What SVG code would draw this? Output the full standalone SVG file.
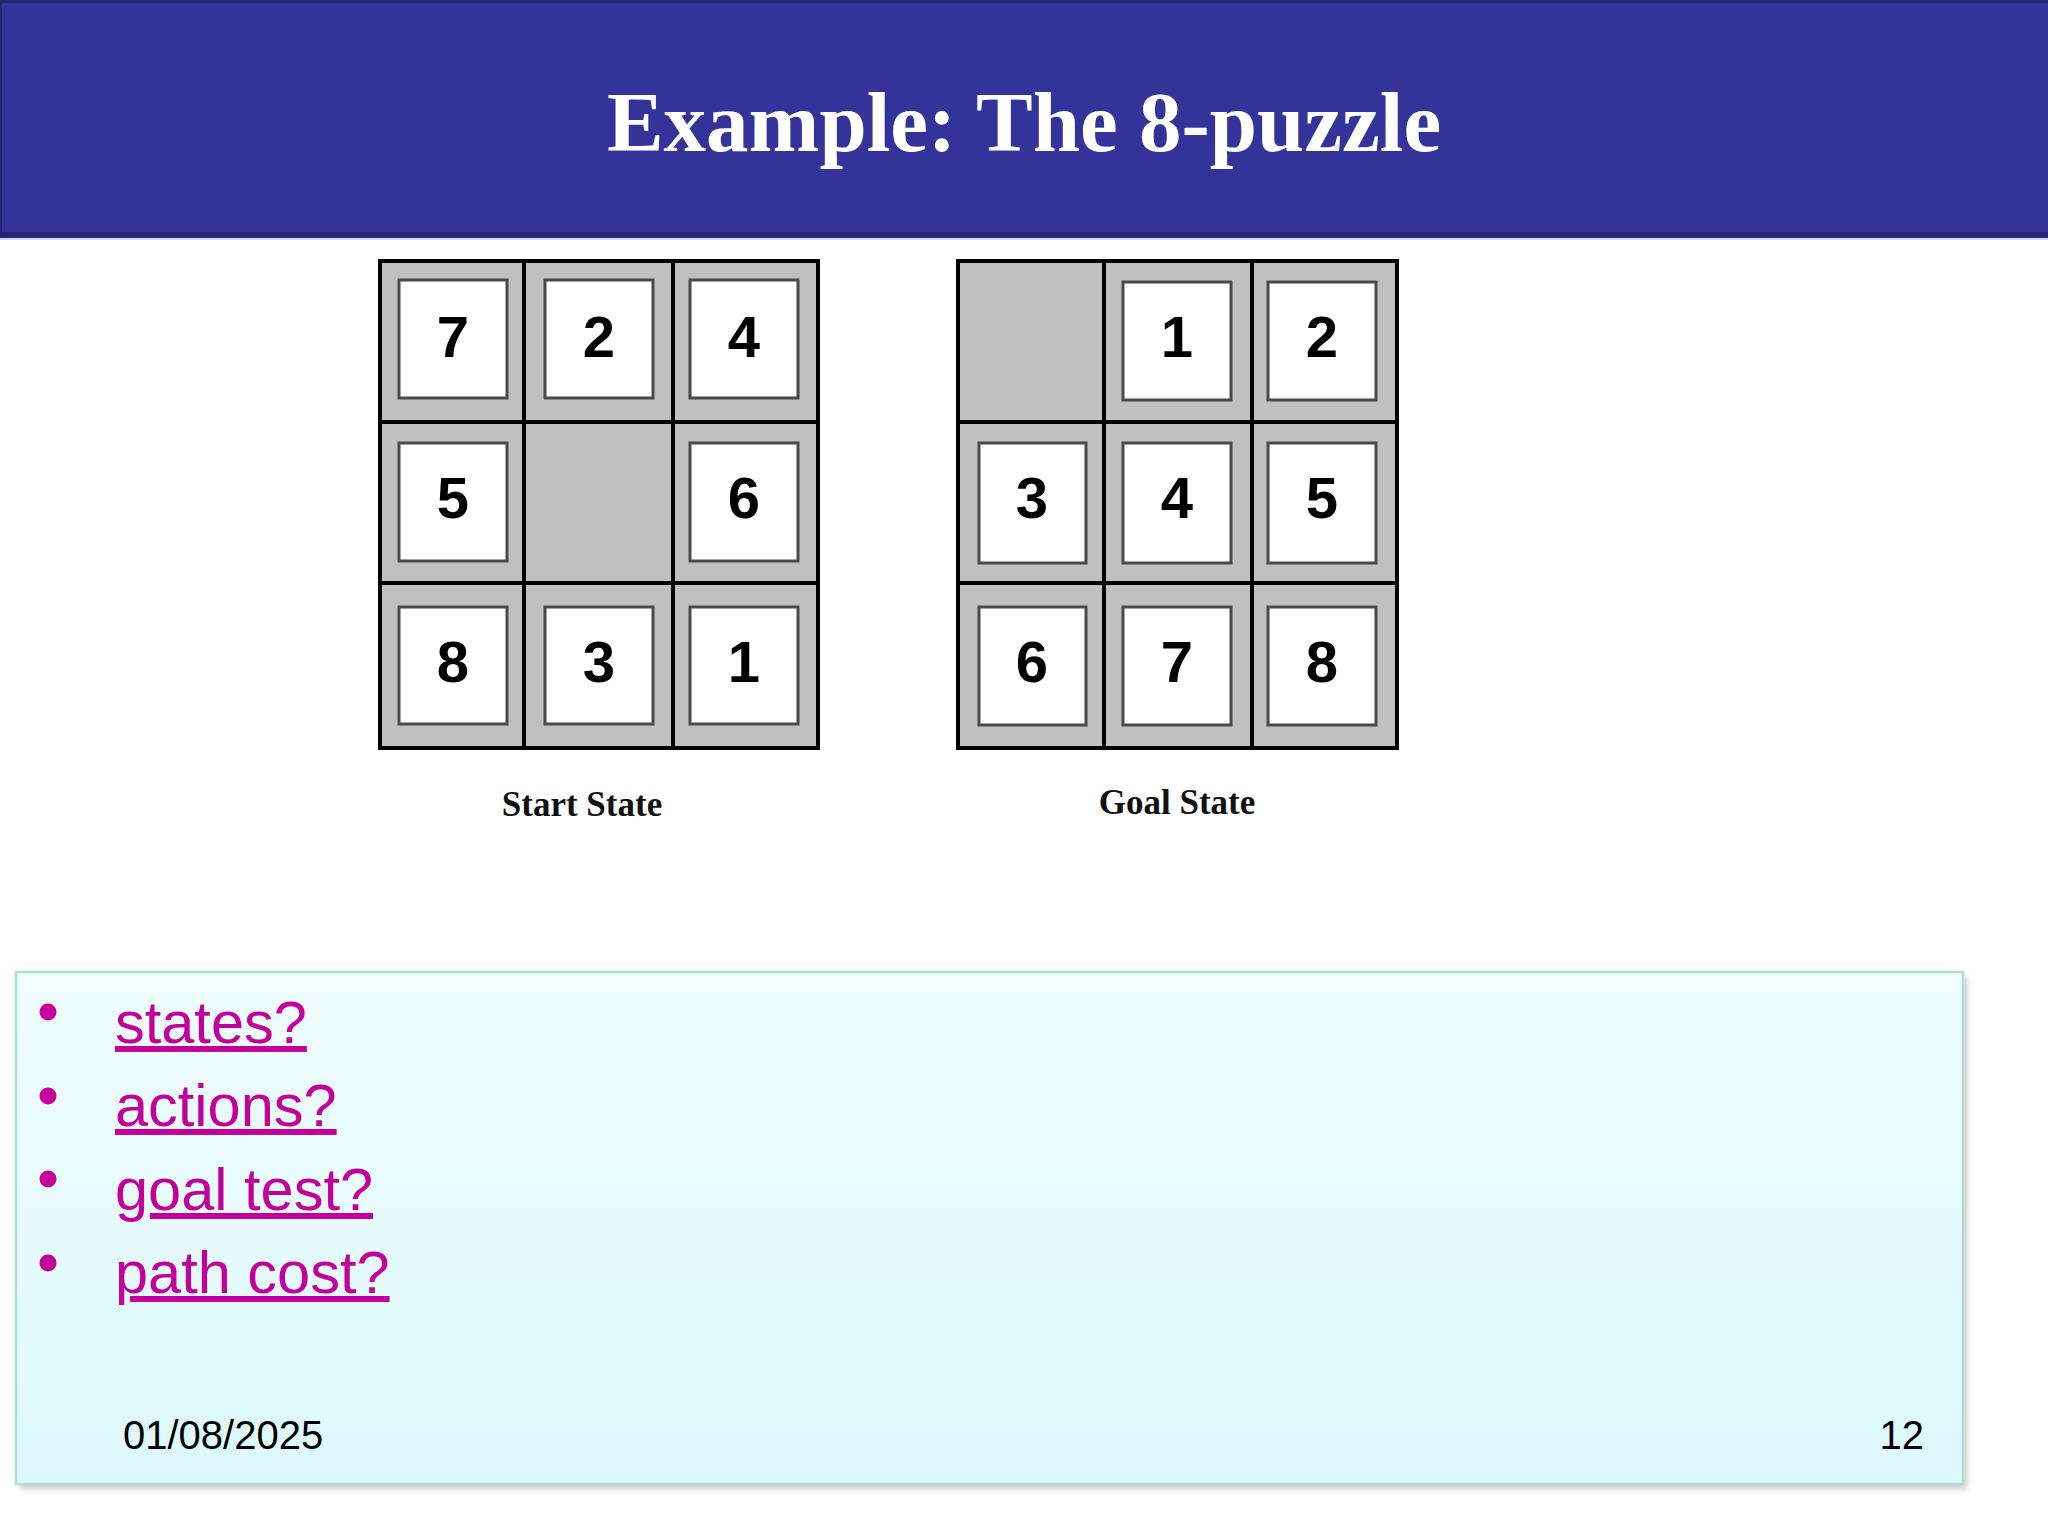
<svg xmlns="http://www.w3.org/2000/svg" width="2048" height="1536" viewBox="0 0 2048 1536">
<defs>
<linearGradient id="boxg" x1="0" y1="0" x2="0" y2="1">
<stop offset="0" stop-color="#f0fcfd"/>
<stop offset="1" stop-color="#dcf9fd"/>
</linearGradient>
<filter id="sh" x="-5%" y="-5%" width="110%" height="110%">
<feGaussianBlur stdDeviation="3"/>
</filter>
</defs>
<style>
.cell{fill:#c0c0c0;stroke:#000;stroke-width:4}
.tile{fill:#fff;stroke:#4a4a4a;stroke-width:3}
.num{font-family:"Liberation Sans",Arial,sans-serif;font-weight:bold;font-size:58px;fill:#000;text-anchor:middle}
.lbl{font-family:"Liberation Serif","Times New Roman",serif;font-weight:bold;font-size:35px;fill:#111;text-anchor:middle}
.bul{font-family:"Liberation Sans",Arial,sans-serif;font-size:59.5px;fill:#c4009c;text-decoration:underline}
.dot{fill:#c4009c}
.foot{font-family:"Liberation Sans",Arial,sans-serif;font-size:40px;fill:#000}
</style>
<rect width="2048" height="1536" fill="#fff"/>
<g id="header">
<rect x="0" y="0" width="2048" height="238" fill="#333399"/>
<rect x="0" y="0" width="2048" height="3" fill="#262675"/>
<rect x="0" y="232" width="2048" height="6" fill="#272778"/>
<rect x="0" y="0" width="2" height="238" fill="#262675"/>
<rect x="0" y="238" width="2048" height="2" fill="#cfd8f0"/>
<text x="1024" y="151" text-anchor="middle" font-family="'Liberation Serif','Times New Roman',serif" font-weight="bold" font-size="85" fill="#fff">Example: The 8-puzzle</text>
</g>
<g id="start-state">
<rect class="cell" x="380" y="261" width="144" height="161"/>
<rect class="cell" x="524" y="261" width="149" height="161"/>
<rect class="cell" x="673" y="261" width="145" height="161"/>
<rect class="cell" x="380" y="422" width="144" height="161"/>
<rect class="cell" x="524" y="422" width="149" height="161"/>
<rect class="cell" x="673" y="422" width="145" height="161"/>
<rect class="cell" x="380" y="583" width="144" height="165"/>
<rect class="cell" x="524" y="583" width="149" height="165"/>
<rect class="cell" x="673" y="583" width="145" height="165"/>
<rect class="tile" x="399" y="280" width="108" height="118"/><text class="num" x="453" y="357">7</text>
<rect class="tile" x="545" y="280" width="108" height="118"/><text class="num" x="599" y="357">2</text>
<rect class="tile" x="690" y="280" width="108" height="118"/><text class="num" x="744" y="357">4</text>
<rect class="tile" x="399" y="443" width="108" height="118"/><text class="num" x="453" y="518">5</text>
<rect class="tile" x="690" y="443" width="108" height="118"/><text class="num" x="744" y="518">6</text>
<rect class="tile" x="399" y="607" width="108" height="117"/><text class="num" x="453" y="682">8</text>
<rect class="tile" x="545" y="607" width="108" height="117"/><text class="num" x="599" y="682">3</text>
<rect class="tile" x="690" y="607" width="108" height="117"/><text class="num" x="744" y="682">1</text>
<text class="lbl" x="582" y="816">Start State</text>
</g>
<g id="goal-state">
<rect class="cell" x="958" y="261" width="146" height="161"/>
<rect class="cell" x="1104" y="261" width="148" height="161"/>
<rect class="cell" x="1252" y="261" width="145" height="161"/>
<rect class="cell" x="958" y="422" width="146" height="161"/>
<rect class="cell" x="1104" y="422" width="148" height="161"/>
<rect class="cell" x="1252" y="422" width="145" height="161"/>
<rect class="cell" x="958" y="583" width="146" height="165"/>
<rect class="cell" x="1104" y="583" width="148" height="165"/>
<rect class="cell" x="1252" y="583" width="145" height="165"/>
<rect class="tile" x="1123" y="282" width="108" height="118"/><text class="num" x="1177" y="357">1</text>
<rect class="tile" x="1268" y="282" width="108" height="118"/><text class="num" x="1322" y="357">2</text>
<rect class="tile" x="979" y="443" width="107" height="120"/><text class="num" x="1032" y="518">3</text>
<rect class="tile" x="1123" y="443" width="108" height="120"/><text class="num" x="1177" y="518">4</text>
<rect class="tile" x="1268" y="443" width="108" height="120"/><text class="num" x="1322" y="518">5</text>
<rect class="tile" x="979" y="607" width="107" height="118"/><text class="num" x="1032" y="682">6</text>
<rect class="tile" x="1123" y="607" width="108" height="118"/><text class="num" x="1177" y="682">7</text>
<rect class="tile" x="1268" y="607" width="108" height="118"/><text class="num" x="1322" y="682">8</text>
<text class="lbl" x="1177" y="814">Goal State</text>
</g>
<g id="content-box">
<rect x="20" y="977" width="1947" height="512" fill="#9a9a9a" opacity="0.5" filter="url(#sh)"/>
<rect x="16" y="972" width="1947" height="512" fill="url(#boxg)" stroke="#b2dcd8" stroke-width="2.5"/>
<circle class="dot" cx="48" cy="1012" r="8.5"/>
<text class="bul" x="115" y="1043">states?</text>
<circle class="dot" cx="48" cy="1096" r="8.5"/>
<text class="bul" x="115" y="1126">actions?</text>
<circle class="dot" cx="48" cy="1179" r="8.5"/>
<text class="bul" x="115" y="1210">goal test?</text>
<circle class="dot" cx="48" cy="1263" r="8.5"/>
<text class="bul" x="115" y="1293">path cost?</text>
<text class="foot" x="123" y="1449">01/08/2025</text>
<text class="foot" x="1924" y="1449" text-anchor="end">12</text>
</g>
</svg>
